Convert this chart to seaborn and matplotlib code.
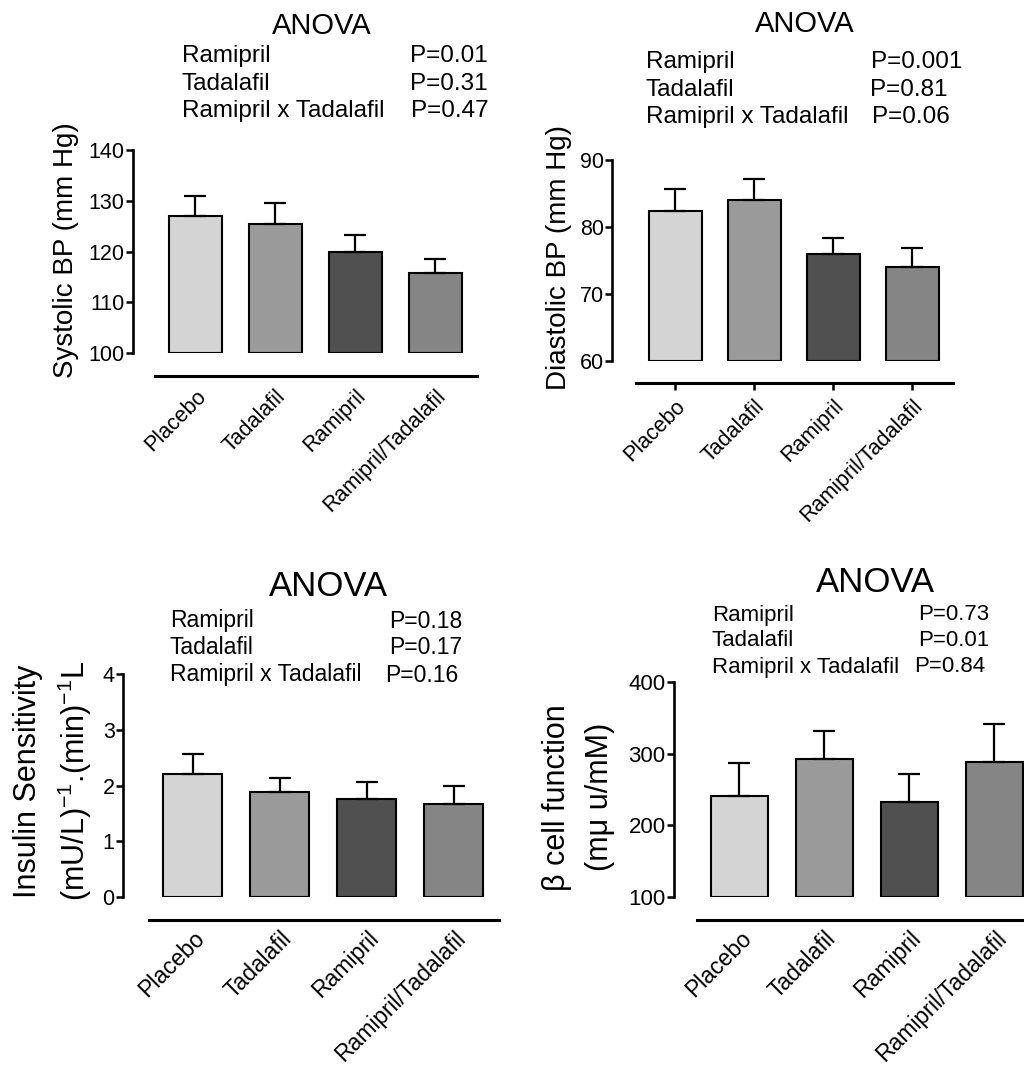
import matplotlib
matplotlib.use("Agg")
import matplotlib.pyplot as plt
import seaborn as sns
import numpy as np

sns.set_theme(style="white")
plt.rcParams['font.family'] = ['Liberation Sans', 'DejaVu Sans']
plt.rcParams['mathtext.fontset'] = 'custom'
plt.rcParams['mathtext.rm'] = 'Liberation Sans'
plt.rcParams['mathtext.it'] = 'Liberation Sans'
plt.rcParams['text.color'] = 'black'
plt.rcParams['xtick.color'] = 'black'
plt.rcParams['ytick.color'] = 'black'
plt.rcParams['axes.labelcolor'] = 'black'

categories = ["Placebo", "Tadalafil", "Ramipril", "Ramipril/Tadalafil"]
bar_colors = ["#d4d4d4", "#9a9a9a", "#505050", "#858585"]

sbp_mean = [127.0, 125.4, 119.9, 115.8]
sbp_err = [4.0, 4.1, 3.3, 2.8]
dbp_mean = [82.4, 84.0, 76.0, 74.1]
dbp_err = [3.2, 3.1, 2.4, 2.8]
ins_mean = [2.21, 1.89, 1.76, 1.66]
ins_err = [0.36, 0.24, 0.30, 0.34]
beta_mean = [241, 292, 233, 288]
beta_err = [46, 39, 38, 53]

anova_terms = ["Ramipril", "Tadalafil", "Ramipril x Tadalafil"]
p_sbp = ["P=0.01", "P=0.31", "P=0.47"]
p_dbp = ["P=0.001", "P=0.81", "P=0.06"]
p_ins = ["P=0.18", "P=0.17", "P=0.16"]
p_beta = ["P=0.73", "P=0.01", "P=0.84"]

W, H = 1024, 1068
fig = plt.figure(figsize=(W / 100, H / 100), dpi=100)
fig.patch.set_facecolor("white")


def fx(x):
    return x / W


def fy(y):
    return 1 - y / H


def panel(left, top, bottom, xlim, spacing, means, errs, ylim, yticks,
          xlabsize, ytsize, xticks_len, offset_px, xpad):
    right = left + (xlim[1] - xlim[0]) * spacing
    ax = fig.add_axes([fx(left), fy(bottom), fx(right - left), (bottom - top) / H])
    base = ylim[0]
    sns.barplot(x=categories, y=[m - base for m in means], hue=categories,
                palette=bar_colors, ax=ax, width=0.67, edgecolor="black",
                linewidth=1.5, legend=False, errorbar=None, bottom=base,
                saturation=1)
    ax.errorbar(range(4), means, yerr=[[0] * 4, errs], fmt="none",
                ecolor="black", elinewidth=1.6, capsize=8, capthick=1.6,
                zorder=1)
    for s in ["top", "right"]:
        ax.spines[s].set_visible(False)
    ax.spines["left"].set_linewidth(1.9)
    ax.spines["left"].set_color("black")
    ax.spines["bottom"].set_linewidth(2.2)
    ax.spines["bottom"].set_color("black")
    ax.spines["bottom"].set_position(("outward", offset_px * 0.72))
    ax.spines["bottom"].set_bounds(-0.5, 3.52)
    ax.set_xlim(*xlim)
    ax.set_ylim(*ylim)
    ax.set_yticks(yticks)
    ax.set_yticklabels([str(t) for t in yticks], fontsize=ytsize)
    ax.set_xticks(range(4))
    ax.set_xticklabels(categories, rotation=45, ha="right",
                       rotation_mode="anchor", fontsize=xlabsize)
    ax.tick_params(axis="y", direction="out", length=5, width=1.8,
                   color="black", pad=1, left=True)
    ax.tick_params(axis="x", direction="out", length=xticks_len, width=1.8,
                   color="black", pad=xpad, bottom=True)
    ax.set_xlabel("")
    ax.set_ylabel("")
    ax.set_facecolor("white")
    ax.grid(False)
    return ax


panel(133, 150, 353, (-0.78, 3.5), 80, sbp_mean, sbp_err, (100, 140),
      [100, 110, 120, 130, 140], 15.5, 15.5, 0, 23, 7)
panel(612, 160, 361, (-0.8, 3.55), 79, dbp_mean, dbp_err, (60, 90),
      [60, 70, 80, 90], 15.5, 15.5, 5, 22, 4)
panel(123, 674, 897, (-0.8, 3.55), 87, ins_mean, ins_err, (0, 4),
      [0, 1, 2, 3, 4], 16.5, 15.5, 0, 23, 5)
panel(674, 682, 897, (-0.77, 3.55), 85, beta_mean, beta_err, (100, 400),
      [100, 200, 300, 400], 16.5, 16, 0, 23, 5)


def anova(cx, cy, size_t, rows_x, rows_y, px, pha, pvals, size_r):
    fig.text(fx(cx), fy(cy), "ANOVA", ha="center", va="center", fontsize=size_t)
    for term, yy, pxx, pv in zip(anova_terms, rows_y, px, pvals):
        fig.text(fx(rows_x), fy(yy), term, ha="left", va="center", fontsize=size_r)
        fig.text(fx(pxx), fy(yy), pv, ha=pha, va="center", fontsize=size_r)


anova(322, 26, 21, 182, [56, 84, 111], [410, 410, 411], "left", p_sbp, 17.5)
anova(805, 24, 21, 646, [62, 90, 117], [871, 870, 872], "left", p_dbp, 17.5)
anova(328, 587, 25, 170, [621, 648, 675], [462, 462, 458], "right", p_ins, 16.5)
anova(875, 582, 25, 712, [615, 641, 667], [989, 989, 985], "right", p_beta, 16)

fig.text(fx(66), fy(250), "Systolic BP (mm Hg)", rotation=90, ha="center",
         va="center", fontsize=20)
fig.text(fx(559), fy(257), "Diastolic BP (mm Hg)", rotation=90, ha="center",
         va="center", fontsize=20)
fig.text(fx(28), fy(781), "Insulin Sensitivity", rotation=90, ha="center",
         va="center", fontsize=22)
fig.text(fx(75), fy(781), r"(mU/L)$^{-1}$.(min)$^{-1}$L", rotation=90,
         ha="center", va="center", fontsize=22)
fig.text(fx(557), fy(798), "β cell function", rotation=90, ha="center",
         va="center", fontsize=22)
fig.text(fx(600), fy(797), "(mμ u/mM)", rotation=90, ha="center",
         va="center", fontsize=22)

fig.savefig("out.png", dpi=100, facecolor="white")
